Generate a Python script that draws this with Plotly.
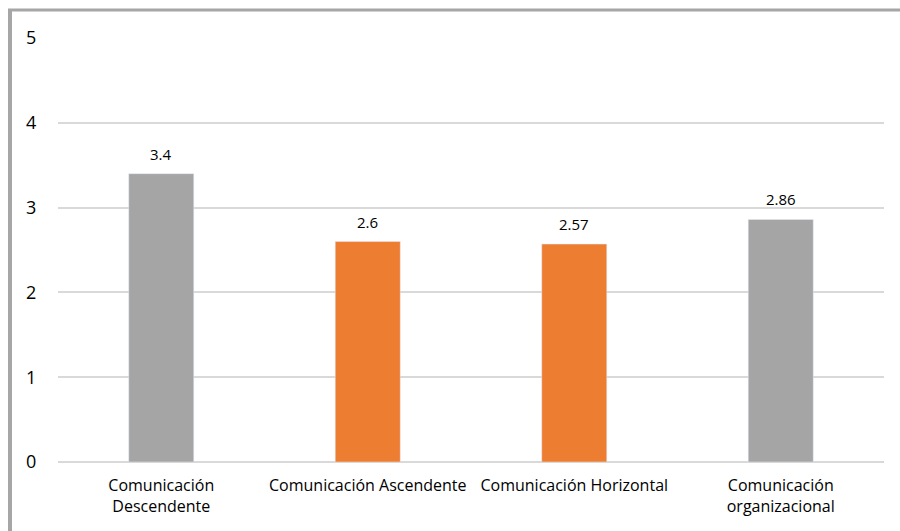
import plotly.graph_objects as go

categories = ["Comunicación<br>Descendente", "Comunicación Ascendente", "Comunicación Horizontal", "Comunicación<br>organizacional"]
values = [3.4, 2.6, 2.57, 2.86]
labels = ["3.4", "2.6", "2.57", "2.86"]
colors = ["#A5A5A5", "#ED7D31", "#ED7D31", "#A5A5A5"]

W, H = 900, 531
L, R, T, B = 58, 16, 38, 69
pw, ph = W - L - R, H - T - B

def px(x):
    return (x - L) / pw

def py(y):
    return (H - B - y) / ph

font = "Open Sans, Liberation Sans, sans-serif"

fig = go.Figure(go.Bar(x=categories, y=values, marker_color=colors, hoverinfo="skip"))

for c, v, t in zip(categories, values, labels):
    fig.add_annotation(x=c, y=v, text=t, showarrow=False, yanchor="bottom", yshift=8,
                       font=dict(family=font, size=15, color="#000000"))

fig.add_shape(type="line", xref="paper", yref="paper", x0=px(10), x1=px(10), y0=py(9), y1=py(540),
              line=dict(color="#A6A6A6", width=4))
fig.add_shape(type="line", xref="paper", yref="paper", x0=px(8), x1=px(910), y0=py(10), y1=py(10),
              line=dict(color="#A6A6A6", width=3))

fig.update_layout(
    width=W, height=H,
    margin=dict(l=L, r=R, t=T, b=B),
    paper_bgcolor="white", plot_bgcolor="white",
    bargap=0.685,
    showlegend=False,
    font=dict(family=font, color="#000000"),
)
fig.update_xaxes(showline=False, tickfont=dict(size=16), ticks="outside", ticklen=9, tickcolor="rgba(0,0,0,0)")
fig.update_yaxes(range=[0, 5], dtick=1, showgrid=True, gridcolor="#D9D9D9", gridwidth=1.5,
                 zeroline=True, zerolinecolor="#D9D9D9", zerolinewidth=1.5, showline=False,
                 tickfont=dict(size=18), ticks="outside", ticklen=17, tickcolor="rgba(0,0,0,0)")

fig.write_html("out.html")
